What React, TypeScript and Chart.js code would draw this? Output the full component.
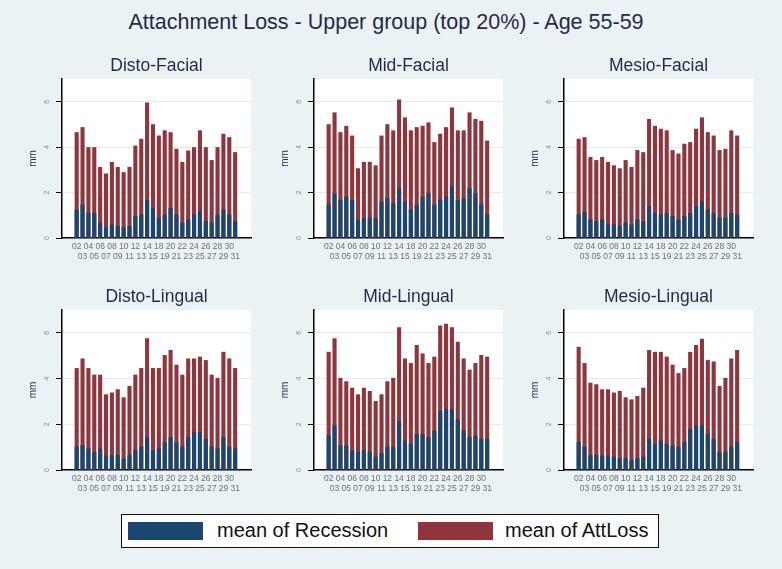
import React, { useEffect, useRef } from 'react';
import { Chart, registerables } from 'chart.js';

Chart.register(...registerables);

const teeth = ['02','03','04','05','06','07','08','09','10','11','12','13','14','15','18','19','20','21','22','23','24','25','26','27','28','29','30','31'];
const yTicks = [0, 2, 4, 6];

const distoFacialRecession = [1.25,1.47,1.1,1.1,0.68,0.46,0.6,0.53,0.46,0.53,0.97,1.03,1.68,1.32,0.9,1.03,1.32,1.03,0.68,0.82,1.03,1.18,0.75,0.68,1.03,1.25,1.03,0.75];
const distoFacialAttLoss = [4.66,4.88,4.0,4.0,3.13,2.84,3.35,3.13,2.9,3.13,4.07,4.37,5.97,5.01,4.51,4.74,4.66,3.93,3.35,3.85,4.0,4.74,4.0,3.43,4.0,4.59,4.44,3.78];

const midFacialRecession = [1.47,1.97,1.68,1.82,1.68,0.82,0.88,0.88,0.88,1.6,1.75,1.54,2.19,1.6,1.25,1.47,1.82,1.97,1.47,1.68,1.82,2.26,1.68,1.75,2.19,1.97,1.47,1.03];
const midFacialAttLoss = [5.01,5.53,4.66,4.94,4.51,3.07,3.35,3.35,3.2,4.51,5.01,4.74,6.1,5.31,4.74,4.88,4.94,5.09,4.22,4.59,4.88,5.75,4.74,4.74,5.53,5.24,5.16,4.29];

const mesioFacialRecession = [1.03,1.15,0.82,0.74,0.82,0.6,0.6,0.53,0.68,0.6,0.82,0.74,1.4,1.1,1.03,1.1,0.97,0.82,0.97,1.1,1.4,1.6,1.25,1.1,0.9,0.9,1.1,1.03];
const mesioFacialAttLoss = [4.37,4.44,3.57,3.43,3.57,3.35,3.2,3.07,3.43,3.13,3.87,3.78,5.24,4.94,4.81,4.74,3.87,3.72,4.15,4.22,4.81,5.31,4.66,4.51,3.87,3.93,4.74,4.51];

const distoLingualRecession = [1.02,1.09,0.94,0.8,0.94,0.63,0.65,0.65,0.51,0.65,0.87,1.02,1.44,0.87,0.94,1.22,1.44,1.22,1.02,1.44,1.66,1.66,1.37,1.02,0.94,1.44,1.02,0.94];
const distoLingualAttLoss = [4.46,4.88,4.46,4.17,4.17,3.31,3.39,3.53,3.18,3.68,4.17,4.46,5.76,4.46,4.46,5.03,5.25,4.61,4.17,4.88,4.88,4.96,4.81,4.17,4.03,5.17,4.88,4.46];

const midLingualRecession = [1.51,1.95,1.08,1.08,0.87,0.8,0.87,0.8,0.58,0.73,1.02,1.02,2.15,1.29,1.15,1.58,1.58,1.44,1.73,2.59,2.66,2.66,2.22,1.73,1.44,1.51,1.37,1.37];
const midLingualAttLoss = [5.17,5.76,4.03,3.88,3.6,3.31,3.6,3.46,3.02,3.31,3.88,4.03,6.25,4.88,4.68,5.47,5.1,4.68,4.96,6.32,6.4,6.25,5.61,4.88,4.39,4.68,5.03,4.96];

const mesioLingualRecession = [1.22,1.02,0.65,0.65,0.63,0.65,0.58,0.51,0.51,0.44,0.51,0.58,1.37,1.15,1.29,1.15,1.08,1.02,1.22,1.8,1.95,1.95,1.58,1.37,0.8,0.8,1.02,1.22];
const mesioLingualAttLoss = [5.39,4.68,3.82,3.75,3.53,3.53,3.39,3.46,3.18,3.09,3.24,3.6,5.25,5.17,5.17,4.96,4.61,4.24,4.46,5.17,5.47,5.74,4.81,4.75,3.68,4.03,4.88,5.25];

const BG = '#eaf2f3';
const BLUE = '#1a476f';
const RED = '#90353b';
const NAVY = '#1e2b4a';
const FONT = "'Liberation Sans', Arial, sans-serif";

const AXIS_W = 40;
const TITLE_H = 30;
const XAXIS_H = 30;
const PLOT_W = 189;
const RIGHT_PAD = 6;

const plotBg = {
  id: 'plotBg',
  beforeDraw(chart: any) {
    const { ctx, chartArea } = chart;
    ctx.save();
    ctx.fillStyle = '#ffffff';
    ctx.fillRect(chartArea.left, chartArea.top, chartArea.right - chartArea.left, chartArea.bottom - chartArea.top);
    ctx.restore();
  },
};

const rotatedYLabels = {
  id: 'rotatedYLabels',
  afterDraw(chart: any) {
    const { ctx, chartArea } = chart;
    const y = chart.scales.y;
    ctx.save();
    ctx.fillStyle = '#7f8d99';
    ctx.font = `7px ${FONT}`;
    ctx.textAlign = 'center';
    ctx.textBaseline = 'middle';
    y.ticks.forEach((t: any) => {
      const py = y.getPixelForValue(t.value);
      ctx.save();
      ctx.translate(chartArea.left - 15, py);
      ctx.rotate(-Math.PI / 2);
      ctx.fillText(String(t.value), 0, 0);
      ctx.restore();
    });
    ctx.restore();
  },
};

function Panel({ title, rec, att, left, top, plotH }: any) {
  const ref = useRef<HTMLCanvasElement>(null);
  const width = AXIS_W + PLOT_W + RIGHT_PAD;
  const height = TITLE_H + plotH + XAXIS_H;
  useEffect(() => {
    const chart = new Chart(ref.current as HTMLCanvasElement, {
      type: 'bar',
      data: {
        datasets: [
          {
            label: 'mean of Recession',
            data: rec.map((v: number, i: number) => ({ x: i, y: v })),
            backgroundColor: BLUE,
            grouped: false,
            barPercentage: 0.7,
            categoryPercentage: 1,
          } as any,
          {
            label: 'mean of AttLoss',
            data: att.map((v: number, i: number) => ({ x: i, y: v })),
            backgroundColor: RED,
            grouped: false,
            barPercentage: 0.7,
            categoryPercentage: 1,
          } as any,
        ],
      },
      options: {
        animation: false,
        responsive: false,
        maintainAspectRatio: false,
        layout: { padding: { left: 0, right: RIGHT_PAD, top: TITLE_H, bottom: 0 } },
        plugins: {
          legend: { display: false },
          tooltip: { enabled: false },
          title: { display: false },
        },
        scales: {
          x: {
            type: 'linear',
            min: -2.5,
            max: 29.7,
            offset: false,
            afterBuildTicks: (s: any) => {
              s.ticks = teeth.map((_, i) => ({ value: i }));
            },
            afterFit: (s: any) => {
              s.height = XAXIS_H;
            },
            grid: { display: false, drawTicks: false },
            border: { display: true, color: '#000', width: 1.5 },
            ticks: {
              autoSkip: false,
              maxRotation: 0,
              minRotation: 0,
              padding: 4,
              color: '#66717d',
              font: { family: FONT, size: 8.5, lineHeight: 1.15 },
              callback: (_v: any, i: number) => (i % 2 === 0 ? [teeth[i], ''] : ['', teeth[i]]),
            },
          } as any,
          y: {
            min: 0,
            max: 7,
            afterBuildTicks: (s: any) => {
              s.ticks = yTicks.map((v) => ({ value: v }));
            },
            afterFit: (s: any) => {
              s.width = AXIS_W;
            },
            grid: { color: '#e4ecef', lineWidth: 1, tickColor: '#000', tickLength: 6, drawTicks: true },
            border: { display: true, color: '#000', width: 1.5 },
            ticks: { display: false },
            title: {
              display: true,
              text: 'mm',
              color: NAVY,
              font: { family: FONT, size: 10 },
              padding: { top: 5, bottom: 0 },
            },
          } as any,
        },
      },
      plugins: [plotBg, rotatedYLabels],
    });
    return () => chart.destroy();
  }, []);
  return (
    <>
      <canvas
        ref={ref}
        width={width}
        height={height}
        style={{ position: 'absolute', left, top, width, height }}
      />
      <div
        style={{
          position: 'absolute',
          left: left + AXIS_W - 40,
          top: top + 5,
          width: PLOT_W + 80,
          textAlign: 'center',
          fontSize: 17.5,
          lineHeight: '22px',
          color: NAVY,
          whiteSpace: 'nowrap',
        }}
      >
        {title}
      </div>
    </>
  );
}

const colX = [62, 314, 564];
const rowTop = [79, 310];
const rowH = [159, 160];

export default function App() {
  const panels = [
    { title: 'Disto-Facial', rec: distoFacialRecession, att: distoFacialAttLoss, c: 0, r: 0 },
    { title: 'Mid-Facial', rec: midFacialRecession, att: midFacialAttLoss, c: 1, r: 0 },
    { title: 'Mesio-Facial', rec: mesioFacialRecession, att: mesioFacialAttLoss, c: 2, r: 0 },
    { title: 'Disto-Lingual', rec: distoLingualRecession, att: distoLingualAttLoss, c: 0, r: 1 },
    { title: 'Mid-Lingual', rec: midLingualRecession, att: midLingualAttLoss, c: 1, r: 1 },
    { title: 'Mesio-Lingual', rec: mesioLingualRecession, att: mesioLingualAttLoss, c: 2, r: 1 },
  ];
  return (
    <div
      style={{
        position: 'fixed',
        left: 0,
        top: 0,
        width: 782,
        height: 569,
        background: BG,
        fontFamily: FONT,
        overflow: 'hidden',
      }}
    >
      <div
        style={{
          position: 'absolute',
          left: 0,
          top: 9,
          width: 772,
          textAlign: 'center',
          fontSize: 21.5,
          color: NAVY,
          lineHeight: '26px',
          whiteSpace: 'nowrap',
        }}
      >
        Attachment Loss - Upper group (top 20%) - Age 55-59
      </div>
      {panels.map((p) => (
        <Panel
          key={p.title}
          title={p.title}
          rec={p.rec}
          att={p.att}
          left={colX[p.c] - AXIS_W}
          top={rowTop[p.r] - TITLE_H}
          plotH={rowH[p.r]}
        />
      ))}
      <div
        style={{
          position: 'absolute',
          left: 121,
          top: 514,
          width: 536,
          height: 32,
          border: '1.5px solid #111',
          background: '#fff',
        }}
      >
        <div style={{ position: 'absolute', left: 6, top: 6.5, width: 75, height: 18, background: BLUE }} />
        <div style={{ position: 'absolute', left: 95, top: 3, fontSize: 20, lineHeight: '24px', color: '#111', whiteSpace: 'nowrap' }}>
          mean of Recession
        </div>
        <div style={{ position: 'absolute', left: 296, top: 6.5, width: 75, height: 18, background: RED }} />
        <div style={{ position: 'absolute', left: 383, top: 3, fontSize: 20, lineHeight: '24px', color: '#111', whiteSpace: 'nowrap' }}>
          mean of AttLoss
        </div>
      </div>
    </div>
  );
}
